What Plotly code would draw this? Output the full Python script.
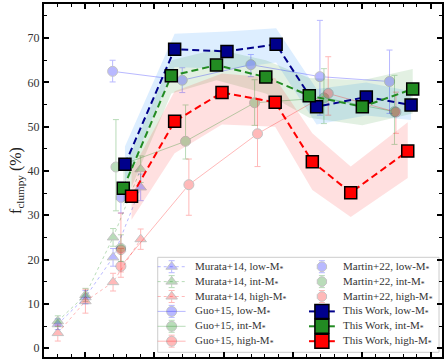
import plotly.graph_objects as go

# ---------------- data ----------------
# This Work
tw_low_x = [0.786, 1.146, 1.525, 1.881, 2.174, 2.534, 2.858]
tw_low_y = [41.5, 67.5, 67.0, 68.6, 54.5, 56.7, 54.9]
tw_low_hi = [45.5, 71.0, 71.5, 72.2, 58.5, 60.0, 58.0]
tw_low_lo = [37.5, 63.5, 63.0, 64.5, 50.5, 52.5, 51.5]

tw_int_x = [0.774, 1.122, 1.449, 1.806, 2.121, 2.505, 2.870]
tw_int_y = [36.1, 61.5, 63.9, 61.2, 57.0, 54.5, 58.5]
tw_int_hi = [40.0, 65.0, 67.5, 65.0, 61.0, 60.5, 63.0]
tw_int_lo = [32.0, 57.5, 60.5, 57.5, 52.0, 50.3, 53.0]

tw_high_x = [0.834, 1.146, 1.489, 1.874, 2.143, 2.421, 2.834]
tw_high_y = [34.3, 51.2, 57.7, 55.5, 42.1, 35.1, 44.5]
tw_high_hi = [40.0, 58.0, 62.0, 61.0, 48.5, 41.0, 51.0]
tw_high_lo = [29.0, 44.0, 50.5, 50.0, 35.7, 29.6, 38.4]

# Murata+14
mu_x = [0.3, 0.5, 0.7, 0.9]
mu_low_y = [5.4, 11.5, 20.5, 36.3]
mu_low_e = [1.2, 1.5, 2.0, 3.0]
mu_int_y = [6.1, 12.0, 25.0, 40.4]
mu_int_e = [1.2, 1.5, 2.0, 3.0]
mu_high_y = [3.4, 10.6, 14.9, 24.6]
mu_high_e = [1.8, 2.7, 2.0, 2.3]

# Guo+15
guo_low_x = [0.697, 1.201, 1.698, 2.198, 2.702]
guo_low_y = [62.5, 60.5, 64.0, 61.3, 60.2]
guo_low_ep = [2.5, 2.8, 2.3, 12.7, 7.1]
guo_low_em = [2.4, 2.8, 2.7, 8.7, 7.2]
guo_int_x = [0.721, 1.225, 1.725, 2.227, 2.738]
guo_int_y = [40.9, 46.7, 55.4, 56.5, 53.4]
guo_int_ep = [10.7, 8.2, 5.2, 6.6, 8.2]
guo_int_em = [9.9, 4.0, 5.1, 5.8, 7.4]
guo_high_x = [0.757, 1.249, 1.746, 2.258, 2.748]
guo_high_y = [18.5, 36.9, 48.4, 57.5, 53.3]
guo_high_ep = [4.0, 5.8, 8.0, 8.3, 4.5]
guo_high_em = [2.5, 6.9, 7.4, 4.9, 4.8]

# Martin+22
ma_x = [0.757]
ma_low_y = [34.0]
ma_low_e = [3.5]
ma_int_y = [22.6]
ma_int_e = [3.0]
ma_high_y = [22.2]
ma_high_ep = [8.3]
ma_high_em = [5.0]

BLUE, GREEN, RED = "blue", "green", "red"
TW_BLUE, TW_GREEN, TW_RED = "#00008B", "#228B22", "#FF0000"
SERIF = "Liberation Serif"
LEG_FONT = "Liberation Serif"
LIT_OP = 0.27
EDGE = "rgb(40,40,40)"

fig = go.Figure()

# bands
for xs, hi, lo, col in [
    (tw_low_x, tw_low_hi, tw_low_lo, "rgba(30,144,255,0.15)"),
    (tw_int_x, tw_int_hi, tw_int_lo, "rgba(34,139,34,0.13)"),
    (tw_high_x, tw_high_hi, tw_high_lo, "rgba(255,0,0,0.12)"),
]:
    fig.add_trace(go.Scatter(x=xs + xs[::-1], y=hi + lo[::-1], fill="toself",
                             fillcolor=col, line=dict(width=0), mode="lines",
                             hoverinfo="skip"))

def err(ep, em=None):
    d = dict(type="data", array=ep, thickness=1, width=3, visible=True)
    if em is not None:
        d["arrayminus"] = em
        d["symmetric"] = False
    return d

# Murata+14
for ys, es, col in [(mu_low_y, mu_low_e, BLUE), (mu_int_y, mu_int_e, GREEN), (mu_high_y, mu_high_e, RED)]:
    fig.add_trace(go.Scatter(x=mu_x, y=ys, mode="lines+markers", opacity=LIT_OP,
                             line=dict(color=col, width=1, dash="dot"),
                             marker=dict(symbol="triangle-up", size=10, color=col,
                                         line=dict(color=EDGE, width=1)),
                             error_y=dict(err(es), color=col)))

# Guo+15
for xs, ys, ep, em, col in [(guo_low_x, guo_low_y, guo_low_ep, guo_low_em, BLUE),
                            (guo_int_x, guo_int_y, guo_int_ep, guo_int_em, GREEN),
                            (guo_high_x, guo_high_y, guo_high_ep, guo_high_em, RED)]:
    fig.add_trace(go.Scatter(x=xs, y=ys, mode="lines+markers", opacity=LIT_OP,
                             line=dict(color=col, width=1),
                             marker=dict(symbol="circle", size=10, color=col,
                                         line=dict(color=EDGE, width=1)),
                             error_y=dict(err(ep, em), color=col)))

# Martin+22
for ys, ep, em, col in [(ma_low_y, ma_low_e, None, BLUE), (ma_int_y, ma_int_e, None, GREEN),
                        (ma_high_y, ma_high_ep, ma_high_em, RED)]:
    fig.add_trace(go.Scatter(x=ma_x, y=ys, mode="markers", opacity=LIT_OP,
                             marker=dict(symbol="octagon", size=10, color=col,
                                         line=dict(color=EDGE, width=1)),
                             error_y=dict(err(ep, em), color=col)))

# This Work
for xs, ys, col in [(tw_low_x, tw_low_y, TW_BLUE), (tw_int_x, tw_int_y, TW_GREEN), (tw_high_x, tw_high_y, TW_RED)]:
    fig.add_trace(go.Scatter(x=xs, y=ys, mode="lines+markers",
                             line=dict(color=col, width=2, dash="7px,4px"),
                             marker=dict(symbol="square", size=12, color=col,
                                         line=dict(color="black", width=1.5))))

# ---------------- manual legend (pixel coords on overlay axes) ----------------
col1_sym, col1_txt = 172.3, 193.3
col2_sym, col2_txt = 323.3, 342.7
row_y = [266.7 + 14.9 * i for i in range(6)]

entries_col1 = [
    ("Murata+14, low-M<sub>*</sub>", "mu", BLUE),
    ("Murata+14, int-M<sub>*</sub>", "mu", GREEN),
    ("Murata+14, high-M<sub>*</sub>", "mu", RED),
    ("Guo+15, low-M<sub>*</sub>", "guo", BLUE),
    ("Guo+15, int-M<sub>*</sub>", "guo", GREEN),
    ("Guo+15, high-M<sub>*</sub>", "guo", RED),
]
entries_col2 = [
    ("Martin+22, low-M<sub>*</sub>", "ma", BLUE),
    ("Martin+22, int-M<sub>*</sub>", "ma", GREEN),
    ("Martin+22, high-M<sub>*</sub>", "ma", RED),
    ("This Work, low-M<sub>*</sub>", "tw", TW_BLUE),
    ("This Work, int-M<sub>*</sub>", "tw", TW_GREEN),
    ("This Work, high-M<sub>*</sub>", "tw", TW_RED),
]

annotations = []
for (cs, ct, entries) in [(col1_sym, col1_txt, entries_col1), (col2_sym, col2_txt, entries_col2)]:
    for yy, (label, kind, col) in zip(row_y, entries):
        if kind == "tw":
            fig.add_trace(go.Scatter(x=[cs - 13, cs + 13], y=[yy, yy], mode="lines",
                                     line=dict(color=col, width=2), xaxis="x2", yaxis="y2"))
            fig.add_trace(go.Scatter(x=[cs], y=[yy], mode="markers", xaxis="x2", yaxis="y2",
                                     marker=dict(symbol="square", size=14, color=col,
                                                 line=dict(color="black", width=1.5))))
        else:
            sym = {"mu": "triangle-up", "guo": "circle", "ma": "octagon"}[kind]
            if kind != "ma":
                fig.add_trace(go.Scatter(x=[cs - 14, cs + 14], y=[yy, yy], mode="lines",
                                         opacity=LIT_OP, xaxis="x2", yaxis="y2",
                                         line=dict(color=col, width=1,
                                                   dash="dot" if kind == "mu" else "solid")))
            fig.add_trace(go.Scatter(x=[cs], y=[yy], mode="markers", opacity=LIT_OP,
                                     xaxis="x2", yaxis="y2",
                                     marker=dict(symbol=sym, size=10, color=col,
                                                 line=dict(color=EDGE, width=1)),
                                     error_y=dict(type="data", array=[6], thickness=1,
                                                  width=3, color=col)))
        annotations.append(dict(x=ct, y=yy, xref="x2", yref="y2", text=label,
                                showarrow=False, xanchor="left", yanchor="middle",
                                font=dict(family=LEG_FONT, size=11, color="#333")))

shapes = [dict(type="rect", xref="x2", yref="y2", x0=158.3, x1=441, y0=257.3, y1=352.3,
               line=dict(color="#cccccc", width=1), fillcolor="white", layer="below")]

axis_common = dict(showline=True, linewidth=2, linecolor="black", mirror="allticks",
                   ticks="inside", ticklen=5, tickwidth=1.5, tickcolor="black",
                   showgrid=False, zeroline=False)

fig.update_layout(
    width=444, height=361,
    margin=dict(l=44, r=0, t=4, b=4),
    paper_bgcolor="white", plot_bgcolor="white",
    showlegend=False,
    hovermode=False,
    xaxis=dict(range=[0.2, 3.082], tick0=0, dtick=0.5, showticklabels=False,
               minor=dict(dtick=0.1, ticks="inside", ticklen=3, tickwidth=1, tickcolor="black"),
               **axis_common),
    yaxis=dict(range=[-2, 77.7], tick0=0, dtick=10,
               tickfont=dict(family=SERIF, size=12, color="#333"),
               title=dict(text="f<sub>clumpy</sub> (%)", standoff=2,
                          font=dict(family=SERIF, size=16, color="#222")),
               minor=dict(dtick=5, ticks="inside", ticklen=3, tickwidth=1, tickcolor="black"),
               **axis_common),
    xaxis2=dict(overlaying="x", range=[44, 444], visible=False, fixedrange=True),
    yaxis2=dict(overlaying="y", range=[357, 4], visible=False, fixedrange=True),
    annotations=annotations,
    shapes=shapes,
)

fig.write_html("out.html", config={"displayModeBar": False},
               post_script="document.body.style.margin='0px';document.body.style.overflow='hidden';")
